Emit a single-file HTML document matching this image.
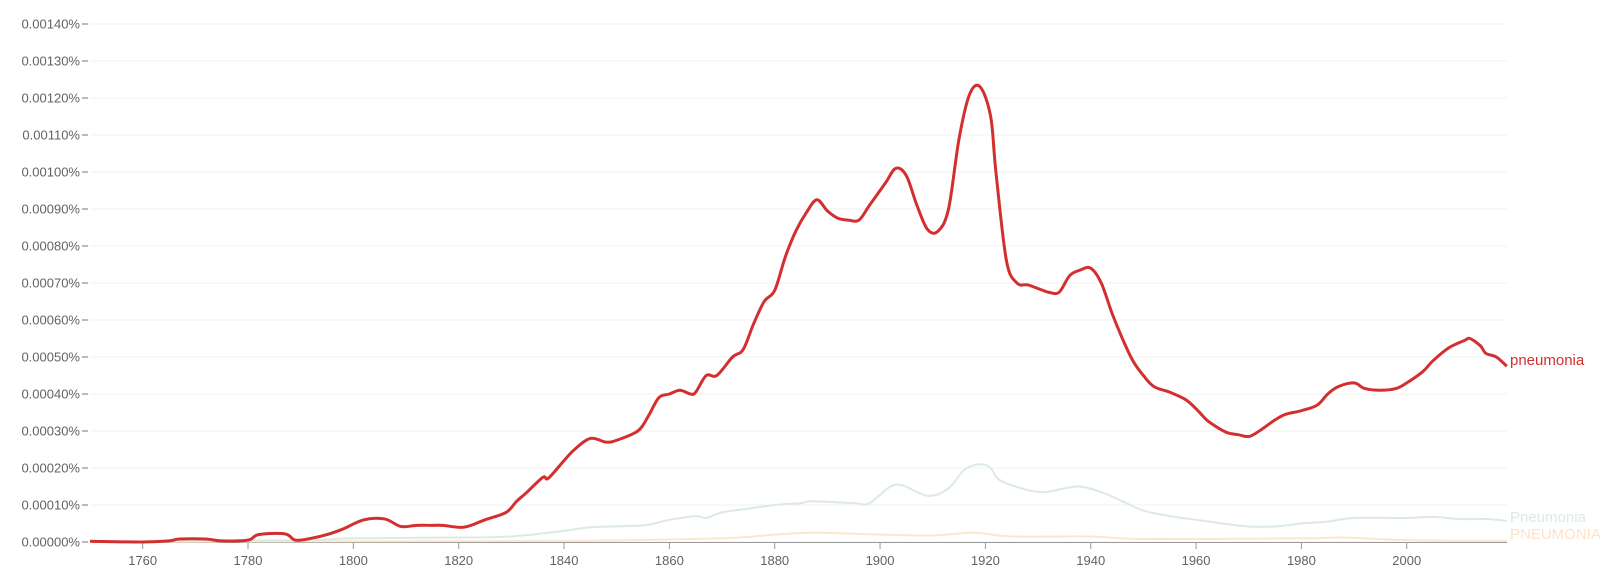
<!DOCTYPE html>
<html><head><meta charset="utf-8"><style>
html,body{margin:0;padding:0;background:#fff;}
svg{display:block;font-family:"Liberation Sans",sans-serif;}
</style></head><body>
<svg id="s" width="1606" height="571" xmlns="http://www.w3.org/2000/svg">
<g id="grid"></g>
<path id="orange" fill="none" stroke="#fde6cf" stroke-width="2"/>
<path id="green" fill="none" stroke="#dcebe0" stroke-width="2"/>
<path id="red" fill="none" stroke="#d32f2f" stroke-width="3" stroke-linejoin="round"/>
<text x="1510" y="361" font-size="15" fill="#d32f2f" dominant-baseline="middle">pneumonia</text>
<text x="1510" y="518" font-size="15" fill="#dcebe0" dominant-baseline="middle">Pneumonia</text>
<text x="1510" y="535" font-size="15" fill="#fde2c6" dominant-baseline="middle">PNEUMONIA</text>
</svg>
<script>
var X=function(y){return 90+(y-1750)*5.267;},Y=function(v){return 542-v*37;};
var g=document.getElementById('grid'),h='';
for(var i=0;i<=14;i++){var y=Y(i);
 h+='<line x1="90" x2="1507" y1="'+y+'" y2="'+y+'" stroke="#f1f1f1" stroke-width="1"/>';
 h+='<line x1="82" x2="88" y1="'+y+'" y2="'+y+'" stroke="#777" stroke-width="1"/>';
 h+='<text x="80" y="'+(y+4.5)+'" font-size="13" fill="#5f6368" text-anchor="end">'+(i/10000).toFixed(5)+'%</text>';}
h+='<line x1="90" x2="1507" y1="542.5" y2="542.5" stroke="#999" stroke-width="1"/>';
for(var yr=1760;yr<=2000;yr+=20){var x=X(yr);
 h+='<line x1="'+x+'" x2="'+x+'" y1="543" y2="549" stroke="#999"/>';
 h+='<text x="'+x+'" y="565" font-size="13" fill="#5f6368" text-anchor="middle">'+yr+'</text>';}
g.innerHTML=h;
function path(d){var p=d.map(function(a){return [X(a[0]),Y(a[1])];});var s='M'+p[0][0]+','+p[0][1];
for(var i=0;i<p.length-1;i++){var p0=p[i-1]||p[i],p1=p[i],p2=p[i+1],p3=p[i+2]||p2;
 s+=' C'+(p1[0]+(p2[0]-p0[0])/6)+','+(p1[1]+(p2[1]-p0[1])/6)+' '+(p2[0]-(p3[0]-p1[0])/6)+','+(p2[1]-(p3[1]-p1[1])/6)+' '+p2[0]+','+p2[1];}
return s;}
var red=[[1750,.02],[1760,0],[1765,.03],[1767,.08],[1772,.08],[1775,.03],[1780,.05],[1782,.2],[1787,.22],[1789,.05],[1792,.1],[1795,.2],[1798,.35],[1802,.6],[1806,.62],[1809,.42],[1812,.45],[1815,.45],[1817,.45],[1821,.4],[1825,.6],[1829,.8],[1831,1.1],[1833,1.35],[1836,1.75],[1837,1.72],[1840,2.2],[1842,2.5],[1845,2.8],[1848,2.7],[1850,2.75],[1854,3.0],[1856,3.4],[1858,3.9],[1860,4.0],[1862,4.1],[1864,4.0],[1865,4.05],[1867,4.5],[1869,4.5],[1872,5.0],[1874,5.2],[1876,5.9],[1878,6.5],[1880,6.8],[1882,7.7],[1884,8.4],[1886,8.9],[1888,9.25],[1890,8.95],[1892,8.75],[1894,8.7],[1896,8.7],[1898,9.1],[1901,9.7],[1903,10.1],[1905,9.9],[1907,9.1],[1909,8.45],[1911,8.4],[1913,9.0],[1915,10.9],[1917,12.1],[1919,12.3],[1921,11.5],[1922,10.0],[1924,7.6],[1926,7.0],[1928,6.95],[1930,6.85],[1932,6.75],[1934,6.75],[1936,7.2],[1938,7.35],[1940,7.4],[1942,7.0],[1944,6.2],[1946,5.5],[1948,4.9],[1950,4.5],[1952,4.2],[1955,4.05],[1958,3.85],[1960,3.6],[1962,3.3],[1964,3.1],[1966,2.95],[1968,2.9],[1970,2.85],[1972,3.0],[1975,3.3],[1977,3.45],[1980,3.55],[1983,3.7],[1985,4.0],[1987,4.2],[1990,4.3],[1992,4.15],[1995,4.1],[1998,4.15],[2000,4.3],[2003,4.6],[2005,4.9],[2008,5.25],[2011,5.45],[2012,5.5],[2014,5.3],[2015,5.1],[2017,5.0],[2019,4.75]];
var green=[[1750,0],[1790,.05],[1800,.1],[1820,.12],[1830,.15],[1840,.3],[1845,.4],[1855,.45],[1860,.6],[1865,.7],[1867,.65],[1870,.8],[1875,.9],[1880,1.0],[1885,1.05],[1887,1.1],[1895,1.05],[1898,1.05],[1903,1.55],[1909,1.25],[1913,1.45],[1916,1.95],[1919,2.1],[1921,2.0],[1923,1.65],[1930,1.35],[1935,1.45],[1938,1.5],[1942,1.35],[1946,1.1],[1950,.85],[1955,.7],[1960,.6],[1965,.5],[1970,.42],[1975,.42],[1980,.5],[1985,.55],[1990,.65],[2000,.65],[2005,.68],[2010,.62],[2015,.62],[2019,.57]];
var orange=[[1750,0],[1800,.02],[1840,.03],[1870,.1],[1880,.2],[1888,.25],[1900,.2],[1910,.18],[1918,.25],[1925,.15],[1940,.15],[1950,.08],[1980,.1],[1988,.12],[2000,.05],[2019,.03]];
document.getElementById('red').setAttribute('d',path(red));
document.getElementById('green').setAttribute('d',path(green));
document.getElementById('orange').setAttribute('d',path(orange));
</script>
</body></html>
